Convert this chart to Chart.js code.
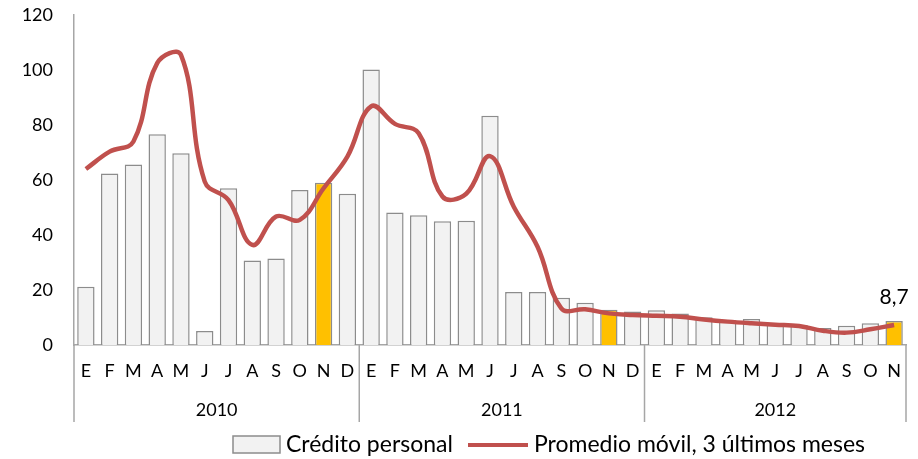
<!DOCTYPE html>
<html>
<head>
<meta charset="utf-8">
<script src="https://cdn.jsdelivr.net/npm/chart.js@4"></script>
<style>
  body { margin: 0; background: #fff; }
  #wrap { width: 918px; height: 459px; }
</style>
</head>
<body>
<div id="wrap"><canvas id="chart" width="918" height="459"></canvas></div>
<script>
// meses (E..D) para 2010, 2011 y 2012 (hasta noviembre)
const months = ['E','F','M','A','M','J','J','A','S','O','N','D',
                'E','F','M','A','M','J','J','A','S','O','N','D',
                'E','F','M','A','M','J','J','A','S','O','N'];
const years = ['2010', '2011', '2012'];
const yearSizes = [12, 12, 11];

// Crédito personal (variación, %)
const credito = [21.2, 62.4, 65.6, 76.6, 69.7, 5.1, 57.0, 30.7, 31.5, 56.4, 59.0, 55.0,
                 100.2, 48.2, 47.2, 45.0, 45.2, 83.4, 19.3, 19.3, 17.2, 15.4, 12.8, 12.2,
                 12.6, 11.5, 10.1, 9.0, 9.5, 7.9, 7.3, 6.2, 7.0, 7.9, 8.7];

// Promedio móvil, 3 últimos meses
const promedio = [64.0, 70.3, 74.0, 102.5, 105.5, 59.4, 52.7, 36.4, 46.7, 45.5, 57.0, 68.5,
                  86.8, 80.4, 77.0, 54.0, 55.0, 68.7, 50.3, 35.7, 13.3, 13.0, 11.5, 10.9,
                  10.6, 10.3, 9.3, 8.5, 7.9, 7.4, 6.9, 5.2, 4.5, 5.7, 7.3];

const yTicks = [0, 20, 40, 60, 80, 100, 120];
const lastLabel = '8,7';

const FONT = 'Lato, "Open Sans", sans-serif';
const AXIS = '#a6a6a6';

// noviembre resaltado en amarillo
const barColors = credito.map((v, i) => months[i] === 'N' ? '#ffc000' : '#f2f2f2');

// eje x en dos niveles, etiqueta final y leyenda
const extras = {
  id: 'extras',
  afterDraw(chart) {
    const ctx = chart.ctx;
    const x = chart.scales.x;
    const area = chart.chartArea;
    const step = x.getPixelForValue(1) - x.getPixelForValue(0);
    ctx.save();

    // separadores de años y nombres de año
    ctx.strokeStyle = AXIS;
    ctx.lineWidth = 1.5;
    let start = 0;
    const edges = [x.getPixelForValue(0) - step / 2];
    yearSizes.forEach(n => {
      edges.push(x.getPixelForValue(start + n - 1) + step / 2);
      start += n;
    });
    edges.forEach(px => {
      ctx.beginPath();
      ctx.moveTo(px, area.bottom);
      ctx.lineTo(px, area.bottom + 77);
      ctx.stroke();
    });
    ctx.fillStyle = '#000';
    ctx.font = '18px ' + FONT;
    ctx.textAlign = 'center';
    ctx.textBaseline = 'middle';
    years.forEach((y, i) => {
      ctx.fillText(y, (edges[i] + edges[i + 1]) / 2, area.bottom + 65);
    });

    // etiqueta del último dato
    const bars = chart.getDatasetMeta(0).data;
    const last = bars[bars.length - 1];
    ctx.font = '21px ' + FONT;
    ctx.textBaseline = 'bottom';
    ctx.fillText(lastLabel, last.x, last.y - 13);

    // leyenda
    ctx.textAlign = 'left';
    ctx.textBaseline = 'middle';
    ctx.font = '23px ' + FONT;
    ctx.fillStyle = '#f2f2f2';
    ctx.fillRect(233, 436, 47, 17);
    ctx.strokeStyle = '#8c8c8c';
    ctx.lineWidth = 1.5;
    ctx.strokeRect(233, 436, 47, 17);
    ctx.fillStyle = '#000';
    ctx.fillText(chart.data.datasets[0].label, 286, 445);
    ctx.strokeStyle = '#c0504d';
    ctx.lineWidth = 4;
    ctx.beginPath();
    ctx.moveTo(468, 445);
    ctx.lineTo(528, 445);
    ctx.stroke();
    ctx.fillText(chart.data.datasets[1].label, 534, 445);
    ctx.restore();
  }
};

new Chart(document.getElementById('chart'), {
  type: 'bar',
  data: {
    labels: months,
    datasets: [{
      label: 'Crédito personal',
      data: credito,
      backgroundColor: barColors,
      borderColor: '#8c8c8c',
      borderWidth: 1.5,
      barPercentage: 0.73,
      categoryPercentage: 1,
      order: 2
    }, {
      type: 'line',
      label: 'Promedio móvil, 3 últimos meses',
      data: promedio,
      borderColor: '#c0504d',
      borderWidth: 4.5,
      pointRadius: 0,
      tension: 0.4,
      fill: false,
      order: 1
    }]
  },
  options: {
    responsive: false,
    animation: false,
    layout: { padding: { top: 15, right: 12, left: 0, bottom: 0 } },
    plugins: { legend: { display: false }, tooltip: { enabled: false } },
    scales: {
      x: {
        grid: { display: false, drawTicks: false },
        border: { display: true, color: AXIS, width: 1.5 },
        ticks: { color: '#000', font: { family: FONT, size: 18 }, padding: 15, maxRotation: 0, autoSkip: false },
        afterFit(scale) { scale.height = 114; }
      },
      y: {
        min: 0,
        max: 120,
        afterBuildTicks(scale) { scale.ticks = yTicks.map(v => ({ value: v })); },
        grid: { display: false, drawTicks: false },
        border: { display: true, color: AXIS, width: 1.5 },
        ticks: { color: '#000', font: { family: FONT, size: 18 }, padding: 21 },
        afterFit(scale) {
          scale.width = 74;
          scale.paddingTop = 0;
          scale.paddingBottom = 0;
        }
      }
    }
  },
  plugins: [extras]
});
</script>
</body>
</html>
